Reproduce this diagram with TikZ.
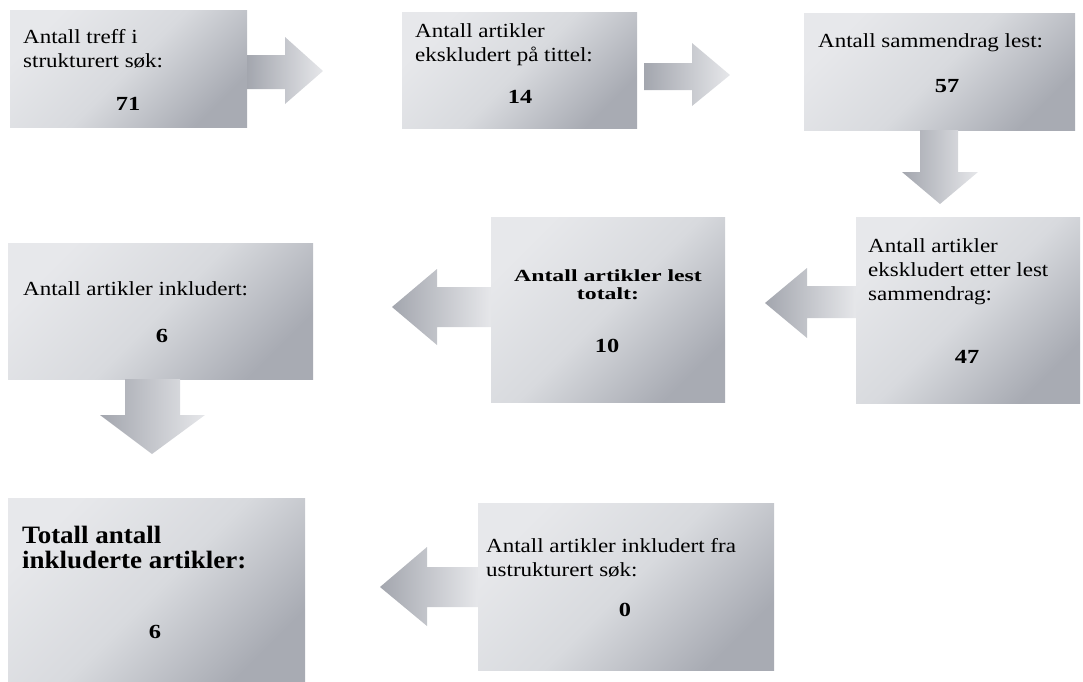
\documentclass[tikz,border=0pt]{standalone}
\usepackage{fontspec}
\setmainfont{Liberation Serif}
\newfontfamily\regf{Liberation Serif}[FakeStretch=1.15]
\newfontfamily\numf{Liberation Serif}[FakeStretch=1.22]
\newfontfamily\midf{Liberation Serif}[FakeStretch=1.4]
\newfontfamily\bigf{Liberation Serif}[FakeStretch=1.08]
\definecolor{boxlight}{HTML}{E7E8EB}
\definecolor{boxmid}{HTML}{D8DADE}
\definecolor{boxdark}{HTML}{A8ABB3}
\definecolor{arrdark}{HTML}{A3A6AE}
\definecolor{arrlight}{HTML}{E6E7EA}
\tikzset{
  box/.style={rectangle, inner sep=0pt, outer sep=0pt, draw=none, anchor=north west,
    top color=boxlight, bottom color=boxdark, middle color=boxmid, shading angle=45},
  blockarrow/.style={left color=arrdark, right color=arrlight, draw=none},
  txt/.style={inner sep=0pt, anchor=base west, text=black, font=\regf\fontsize{20}{24}\selectfont},
  num/.style={inner sep=0pt, anchor=base, text=black, font=\numf\bfseries\fontsize{20}{24}\selectfont},
  midtxt/.style={inner sep=0pt, anchor=base, text=black, font=\midf\bfseries\fontsize{17}{18}\selectfont},
  bigtxt/.style={inner sep=0pt, anchor=base west, text=black, font=\bigf\bfseries\fontsize{25}{25}\selectfont}
}
\begin{document}
\begin{tikzpicture}[x=1pt, y=-1pt]
\useasboundingbox (0,0) rectangle (1083,681);
% boxes
\node[box, minimum width=237pt, minimum height=117pt] (b1) at (10,10) {};
\node[box, minimum width=235pt, minimum height=116pt] (b2) at (402,12) {};
\node[box, minimum width=271pt, minimum height=117pt] (b3) at (804,13) {};
\node[box, minimum width=224pt, minimum height=186pt] (b4) at (856,217) {};
\node[box, minimum width=234pt, minimum height=185pt] (b5) at (491,217) {};
\node[box, minimum width=305pt, minimum height=136pt] (b6) at (8,243) {};
\node[box, minimum width=297pt, minimum height=183pt] (b7) at (8,498) {};
\node[box, minimum width=296pt, minimum height=167pt] (b8) at (478,503) {};
% block arrows
\shade[blockarrow] (247,55) -- (285,55) -- (285,37) -- (323,71) -- (285,104) -- (285,89) -- (247,89) -- cycle;
\shade[blockarrow] (644,63) -- (692,63) -- (692,43) -- (730,75) -- (692,106) -- (692,90) -- (644,90) -- cycle;
\shade[blockarrow] (920,130) -- (958,130) -- (958,172) -- (978,172) -- (940,204) -- (902,172) -- (920,172) -- cycle;
\shade[blockarrow] (856,286) -- (807,286) -- (807,268) -- (765,303) -- (807,338) -- (807,318) -- (856,318) -- cycle;
\shade[blockarrow] (491,287) -- (437,287) -- (437,269) -- (392,307) -- (437,345) -- (437,327) -- (491,327) -- cycle;
\shade[blockarrow] (125,379) -- (180,379) -- (180,415) -- (205,415) -- (152,454) -- (100,415) -- (125,415) -- cycle;
\shade[blockarrow] (478,567) -- (427,567) -- (427,547) -- (380,587) -- (427,626) -- (427,607) -- (478,607) -- cycle;
% texts
\node[txt] (t1a) at (23,43) {Antall treff i};
\node[txt] (t1b) at (23,67) {strukturert søk:};
\node[num] (n1) at (128,110) {71};
\node[txt] (t2a) at (415,37) {Antall artikler};
\node[txt] (t2b) at (415,61) {ekskludert på tittel:};
\node[num] (n2) at (520,103) {14};
\node[txt] (t3a) at (818,47) {Antall sammendrag lest:};
\node[num] (n3) at (947,92) {57};
\node[txt] (t4a) at (868,252) {Antall artikler};
\node[txt] (t4b) at (868,276) {ekskludert etter lest};
\node[txt] (t4c) at (868,300) {sammendrag:};
\node[num] (n4) at (967,363) {47};
\node[midtxt] (t5a) at (608,281) {Antall artikler lest};
\node[midtxt] (t5b) at (608,299) {totalt:};
\node[num] (n5) at (607,352) {10};
\node[txt] (t6a) at (23,295) {Antall artikler inkludert:};
\node[num] (n6) at (162,342) {6};
\node[bigtxt] (t7a) at (22,543) {Totall antall};
\node[bigtxt] (t7b) at (22,568) {inkluderte artikler:};
\node[num] (n7) at (155,638) {6};
\node[txt] (t8a) at (486,552) {Antall artikler inkludert fra};
\node[txt] (t8b) at (486,576) {ustrukturert søk:};
\node[num] (n8) at (625,616) {0};
\end{tikzpicture}
\end{document}
